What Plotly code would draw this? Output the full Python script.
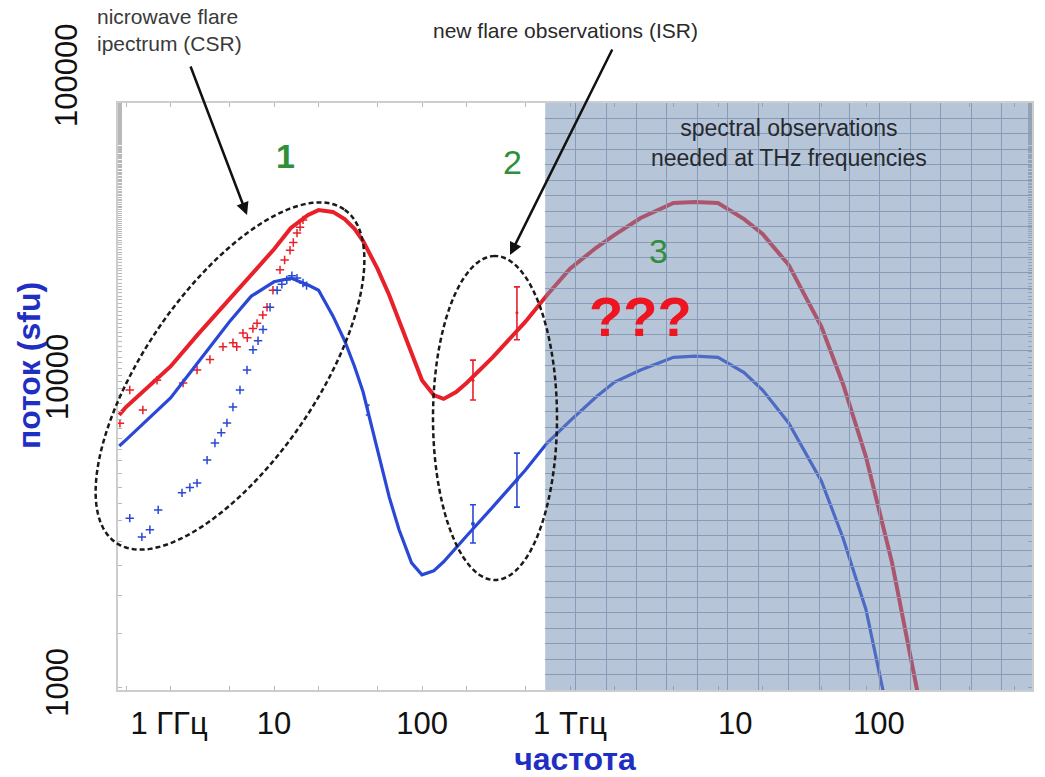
import numpy as np
import plotly.graph_objects as go

# ---------------- data (frequency in GHz, flux in sfu) ----------------
freq_model_red = [0.9, 1, 2, 3, 5, 7, 10, 13, 17, 20, 25, 30, 35, 40, 50, 60, 70, 85, 100, 120,
                  140, 170, 200, 300, 500, 700, 1000, 1500, 2000, 3000, 5000, 7000, 10000, 15000,
                  20000, 30000, 50000, 70000, 100000, 150000, 200000, 230000]
flux_model_red = [7770, 8250, 11200, 14100, 18600, 22300, 27100, 31800, 35100, 36400, 35900, 34000,
                  31600, 28800, 23400, 19200, 15900, 12500, 10100, 9030, 8770, 9240, 9890, 12000,
                  15700, 19200, 23400, 27400, 30200, 34300, 38400, 38700, 38400, 34000, 30400,
                  24100, 15100, 9800, 5660, 2550, 1270, 890]

freq_model_blue = [0.9, 1, 2, 3, 5, 7, 10, 13, 17, 20, 25, 30, 35, 40, 50, 60, 70, 85, 100, 120,
                   140, 170, 200, 300, 500, 700, 1000, 1500, 2000, 3000, 5000, 7000, 10000, 15000,
                   20000, 30000, 50000, 70000, 100000, 130000, 150000]
flux_model_blue = [6150, 6440, 8830, 11400, 15700, 19000, 21200, 21800, 20700, 19900, 16400, 13600,
                   11200, 9240, 5970, 4190, 3270, 2550, 2330, 2400, 2570, 2870, 3120, 3880, 5130,
                   6290, 7430, 8900, 9960, 10900, 12000, 12100, 12000, 10700, 9380, 7320, 4720,
                   3070, 1790, 980, 670]

csr_red_f = [0.91, 1.06, 1.30, 1.62, 2.43, 3.02, 3.69, 4.52, 5.28, 5.6, 6.17, 6.6, 7.2, 7.68,
             8.4, 8.97, 9.84, 10.98, 11.8, 12.83, 13.5, 14.3, 15.0, 15.7]
csr_red_s = [7300, 9380, 8070, 10100, 9890, 10900, 11800, 13000, 13400, 13000, 14400, 13900,
             14900, 15500, 16500, 17500, 19900, 23200, 25000, 26900, 28500, 30600, 32000, 33800]

csr_blue_f = [1.06, 1.28, 1.45, 1.65, 2.39, 2.7, 3.02, 3.53, 3.99, 4.4, 4.81, 5.28, 5.89, 6.57,
              7.21, 7.8, 8.43, 9.40, 10.5, 11.3, 12.2, 13.2, 14.3, 15.7, 16.6]
csr_blue_s = [3570, 3100, 3270, 3800, 4320, 4500, 4650, 5530, 6290, 6800, 7320, 8250, 9380,
              10900, 12700, 13600, 14800, 17500, 19900, 20800, 21500, 22200, 21800, 21000, 20600]

isr_f = [221, 438]
isr_red = [10100, 16800]
isr_red_up = [1650, 3600]
isr_red_dn = [1400, 3100]
isr_blue = [3420, 4760]
isr_blue_up = [530, 1070]
isr_blue_dn = [460, 880]

extra_blue_f = [43]
extra_blue_s = [8070]
extra_blue_err = [300]

x_tickvals = [1, 10, 100, 1000, 10000, 100000]
NB = "\u00a0"
x_ticktext = [NB * 10 + "1 ГГц", "10", "100", "1 Тгц", NB * 4 + "10", NB * 3 + "100"]
y_tickvals = [1000, 10000]
y_ticktext = ["1000", "10000"]
y_top_value = 100000
y_top_label = "100000"

SHADE_START_GHZ = 680

# ---------------- geometry / styles ----------------
W, H = 1045, 777
ML, MR, MT, MB = 118, 13, 103, 87
XR = [-0.0541, 6.1216]
YR = [2.9902, 4.9116]
PW, PH = W - ML - MR, H - MT - MB

RED = "#e8202a"
BLUE = "#2a48d6"
GREEN = "#2f8f3a"
TITLE_BLUE = "#1f2fc4"
FONT = "Liberation Sans, Arial"
TICKFONT = dict(family="Liberation Sans Narrow, Arial Narrow, Liberation Sans, Arial", size=31, color="#111")


def pxX(px):
    return (px - ML) / PW


def pxY(py):
    return (H - MB - py) / PH


def ellipse_path(cx, cy, a, b, theta_deg, n=160):
    t = np.linspace(0, 2 * np.pi, n)
    th = np.radians(theta_deg)
    xs = cx + a * np.cos(t) * np.cos(th) - b * np.sin(t) * np.sin(th)
    ys = cy - (a * np.cos(t) * np.sin(th) + b * np.sin(t) * np.cos(th))
    pts = [f"{pxX(x):.5f},{pxY(y):.5f}" for x, y in zip(xs, ys)]
    return "M " + " L ".join(pts) + " Z"


def label(px, py, text, size, color, **kw):
    d = dict(x=pxX(px), y=pxY(py), xref="paper", yref="paper", showarrow=False, text=text,
             xanchor="center", yanchor="middle", font=dict(family=FONT, size=size, color=color))
    d.update(kw)
    return d


fig = go.Figure()

fig.add_trace(go.Scatter(x=csr_red_f, y=csr_red_s, mode="markers",
                         marker=dict(symbol="cross-thin", size=6, line=dict(color=RED, width=1.5)),
                         hoverinfo="skip"))
fig.add_trace(go.Scatter(x=csr_blue_f, y=csr_blue_s, mode="markers",
                         marker=dict(symbol="cross-thin", size=6, line=dict(color=BLUE, width=1.5)),
                         hoverinfo="skip"))
fig.add_trace(go.Scatter(x=freq_model_red, y=flux_model_red, mode="lines",
                         line=dict(color=RED, width=4), hoverinfo="skip"))
fig.add_trace(go.Scatter(x=freq_model_blue, y=flux_model_blue, mode="lines",
                         line=dict(color=BLUE, width=3.2), hoverinfo="skip"))
fig.add_trace(go.Scatter(x=isr_f, y=isr_red, mode="markers",
                         marker=dict(size=3, color=RED),
                         error_y=dict(type="data", symmetric=False, array=isr_red_up,
                                      arrayminus=isr_red_dn, color=RED, thickness=1.6, width=3),
                         hoverinfo="skip"))
fig.add_trace(go.Scatter(x=isr_f, y=isr_blue, mode="markers",
                         marker=dict(size=4, color=BLUE),
                         error_y=dict(type="data", symmetric=False, array=isr_blue_up,
                                      arrayminus=isr_blue_dn, color=BLUE, thickness=1.6, width=3),
                         hoverinfo="skip"))
fig.add_trace(go.Scatter(x=extra_blue_f, y=extra_blue_s, mode="markers",
                         marker=dict(size=3, color=BLUE),
                         error_y=dict(type="data", array=extra_blue_err, color=BLUE,
                                      thickness=1.5, width=2),
                         hoverinfo="skip"))
# empty trace to create the grid subplot of the shaded THz region
fig.add_trace(go.Scatter(x=[None], y=[None], xaxis="x2", yaxis="y2", hoverinfo="skip"))

d0 = (np.log10(SHADE_START_GHZ) - XR[0]) / (XR[1] - XR[0])
y_top_paper = (np.log10(y_top_value) - YR[0]) / (YR[1] - YR[0])

shapes = [
    dict(type="rect", xref="x", yref="paper", x0=SHADE_START_GHZ, x1=10 ** XR[1], y0=0, y1=1,
         fillcolor="rgba(112,140,178,0.5)", line=dict(width=0), layer="above"),
    dict(type="path", xref="paper", yref="paper", path=ellipse_path(230, 376, 202, 86, 55.6),
         line=dict(color="#1a1a1a", width=2.5, dash="5px,3px")),
    dict(type="path", xref="paper", yref="paper", path=ellipse_path(495, 418, 162, 62, 90),
         line=dict(color="#1a1a1a", width=2.5, dash="5px,3px")),
]

annotations = [
    dict(x=pxX(247), y=pxY(215), xref="paper", yref="paper", text="", showarrow=True,
         ax=190 - 247, ay=65 - 215, arrowhead=2, arrowsize=1, arrowwidth=2.5, arrowcolor="#111",
         standoff=0),
    dict(x=pxX(510), y=pxY(255), xref="paper", yref="paper", text="", showarrow=True,
         ax=613 - 510, ay=48 - 255, arrowhead=2, arrowsize=1, arrowwidth=2.5, arrowcolor="#111",
         standoff=0),
    label(95, 3, "nicrowave flare<br>ipectrum (CSR)", 21, "#3a3a3a",
          xanchor="left", yanchor="top", align="left"),
    label(565, 30, "new flare observations (ISR)", 21, "#2a2a2a"),
    label(789, 143, "spectral observations<br>needed at THz frequencies", 23, "#262a30"),
    label(285, 156, "<b>1</b>", 34, GREEN),
    label(512, 162, "2", 34, GREEN),
    label(658, 251, "3", 34, GREEN),
    label(640, 316, "<b>???</b>", 56, "#ee1520"),
    dict(x=pxX(67), y=y_top_paper, xref="paper", yref="paper", xanchor="center", yanchor="middle",
         showarrow=False, text=y_top_label, textangle=-90, font=TICKFONT),
    label(29, 366, "<b>поток (sfu)</b>", 32, TITLE_BLUE, textangle=-90),
]

fig.update_layout(
    width=W, height=H,
    margin=dict(l=ML, r=MR, t=MT, b=MB, autoexpand=False),
    paper_bgcolor="white", plot_bgcolor="rgba(0,0,0,0)",
    showlegend=False,
    shapes=shapes, annotations=annotations,
    xaxis=dict(type="log", range=XR, tickvals=x_tickvals, ticktext=x_ticktext, tickfont=TICKFONT,
               showgrid=False, zeroline=False, showline=True, linecolor="#cdcdcd", linewidth=1.5,
               mirror="allticks", ticks="", ticklabelstandoff=5, automargin=False,
               minor=dict(ticks="inside", ticklen=4, tickcolor="#b8b8b8", showgrid=False),
               title=dict(text="<b>частота</b>", standoff=14,
                          font=dict(family="Liberation Sans Narrow, Arial Narrow, Liberation Sans, Arial",
                                    size=32, color=TITLE_BLUE))),
    yaxis=dict(type="log", range=YR, tickvals=y_tickvals, ticktext=y_ticktext, tickfont=TICKFONT,
               tickangle=-90, showgrid=False, zeroline=False, showline=True, linecolor="#cdcdcd",
               linewidth=1.5, mirror="allticks", ticks="", ticklabelstandoff=36, automargin=False,
               minor=dict(ticks="inside", ticklen=4, tickcolor="#b8b8b8", showgrid=False)),
    xaxis2=dict(domain=[d0, 1], anchor="y2", range=[0, 16], dtick=1, showgrid=True,
                gridcolor="rgb(160,169,184)", gridwidth=1, showticklabels=False, zeroline=False,
                showline=False, ticks="", automargin=False),
    yaxis2=dict(domain=[0, 1], anchor="x2", range=[0, 38], dtick=1, showgrid=True,
                gridcolor="rgb(160,169,184)", gridwidth=1, showticklabels=False, zeroline=False,
                showline=False, ticks="", automargin=False),
)

fig.write_html("out.html")
